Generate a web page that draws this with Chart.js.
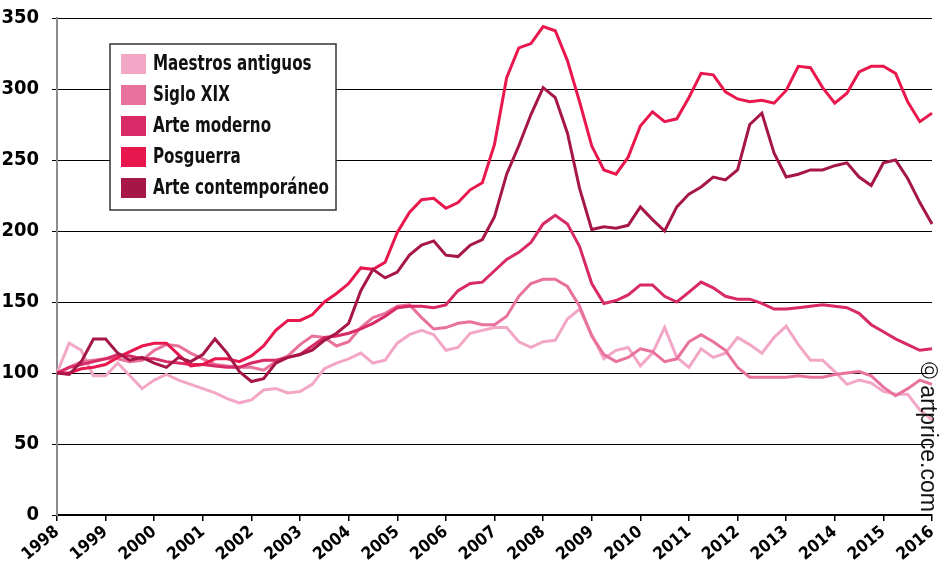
<!DOCTYPE html>
<html>
<head>
<meta charset="utf-8">
<script src="https://cdn.jsdelivr.net/npm/chart.js@4.4.1/dist/chart.umd.min.js"></script>
<style>
  html, body { margin: 0; padding: 0; background: #fff; }
  #wrap { width: 941px; height: 564px; position: relative; }
</style>
</head>
<body>
<div id="wrap"><canvas id="grafico"></canvas></div>
<script>
// Datos trimestrales, base 100 = enero 1998
const anios = ['1998', '1999', '2000', '2001', '2002', '2003', '2004', '2005', '2006',
  '2007', '2008', '2009', '2010', '2011', '2012', '2013', '2014', '2015', '2016'];

const series = ['Maestros antiguos', 'Siglo XIX', 'Arte moderno', 'Posguerra', 'Arte contemporáneo'];
const colores = ['#f2a7c6', '#e9719d', '#d82a66', '#e8184f', '#a61646'];

const maestrosAntiguos = [100, 121, 116, 98, 98, 107, 98, 89, 95, 99, 95, 92, 89, 86, 82, 79, 81, 88, 89, 86,
  87, 92, 103, 107, 110, 114, 107, 109, 121, 127, 130, 127, 116, 118, 128, 130, 132, 132, 122, 118,
  122, 123, 138, 145, 127, 110, 116, 118, 105, 114, 132, 111, 104, 117, 111, 114, 125, 120, 114, 125,
  133, 120, 109, 109, 101, 92, 95, 93, 87, 85, 85, 74, 67];
const sigloXIX = [100, 104, 108, 109, 110, 110, 108, 109, 116, 120, 119, 114, 110, 106, 105, 104, 104, 102, 108, 112,
  120, 126, 125, 119, 122, 132, 139, 142, 147, 148, 139, 131, 132, 135, 136, 134, 134, 140, 154, 163,
  166, 166, 161, 147, 126, 113, 108, 111, 117, 115, 108, 110, 122, 127, 122, 116, 104, 97, 97, 97,
  97, 98, 97, 97, 99, 100, 101, 98, 90, 84, 89, 95, 92];
const arteModerno = [100, 104, 106, 108, 110, 113, 112, 110, 110, 108, 107, 106, 106, 105, 104, 104, 107, 109, 109, 111,
  113, 119, 125, 126, 128, 131, 135, 140, 146, 147, 147, 146, 148, 158, 163, 164, 172, 180, 185, 192,
  205, 211, 205, 189, 163, 149, 151, 155, 162, 162, 154, 150, 157, 164, 160, 154, 152, 152, 149, 145,
  145, 146, 147, 148, 147, 146, 142, 134, 129, 124, 120, 116, 117];
const posguerra = [100, 100, 103, 104, 106, 111, 115, 119, 121, 121, 113, 105, 106, 110, 110, 108, 112, 119, 130, 137,
  137, 141, 150, 156, 163, 174, 173, 178, 199, 213, 222, 223, 216, 220, 229, 234, 261, 308, 329, 332,
  344, 341, 320, 291, 260, 243, 240, 252, 274, 284, 277, 279, 294, 311, 310, 298, 293, 291, 292, 290,
  299, 316, 315, 301, 290, 297, 312, 316, 316, 311, 291, 277, 283];
const arteContemporaneo = [100, 99, 108, 124, 124, 114, 109, 111, 107, 104, 111, 108, 113, 124, 114, 101, 94, 96, 107, 111,
  113, 116, 123, 128, 135, 158, 173, 167, 171, 183, 190, 193, 183, 182, 190, 194, 210, 240, 260, 282,
  301, 294, 269, 230, 201, 203, 202, 204, 217, 208, 200, 217, 226, 231, 238, 236, 243, 275, 283, 255,
  238, 240, 243, 243, 246, 248, 238, 232, 248, 250, 237, 220, 205];

const valores = [maestrosAntiguos, sigloXIX, arteModerno, posguerra, arteContemporaneo];

// Etiquetas de trimestre: cuatro por año, el último año sólo el primer trimestre
const trimestres = [];
anios.forEach((a, k) => {
  const n = k === anios.length - 1 ? 1 : 4;
  for (let q = 1; q <= n; q++) trimestres.push(a + ' T' + q);
});

const FUENTE = "'Liberation Sans Narrow', 'DejaVu Sans Condensed', 'Open Sans', sans-serif";

// Leyenda con recuadro dentro del área del gráfico
const leyendaCaja = {
  id: 'leyendaCaja',
  afterDatasetsDraw(chart) {
    const c = chart.ctx;
    const x0 = chart.chartArea.left + 53, y0 = chart.chartArea.top + 26;
    const ancho = 226, alto = 166;
    c.save();
    c.fillStyle = '#fff';
    c.fillRect(x0, y0, ancho, alto);
    c.lineWidth = 1.5;
    c.strokeStyle = '#333';
    c.strokeRect(x0, y0, ancho, alto);
    c.font = 'bold 21px ' + FUENTE;
    c.textBaseline = 'middle';
    // comprimir el texto para que quepa como en el original
    const maxAncho = Math.max(...chart.data.datasets.map(d => c.measureText(d.label).width));
    const sx = Math.min(1, 176 / maxAncho);
    chart.data.datasets.forEach((ds, i) => {
      const yc = y0 + 20 + i * 31;
      c.fillStyle = ds.borderColor;
      c.fillRect(x0 + 11, yc - 10, 25, 20);
      c.fillStyle = '#111';
      c.save();
      c.translate(x0 + 43, yc + 1);
      c.scale(sx, 1);
      c.fillText(ds.label, 0, 0);
      c.restore();
    });
    c.restore();
  },
  afterDraw(chart) {
    const c = chart.ctx;
    c.save();
    c.translate(chart.chartArea.right - 11, 362);
    c.rotate(Math.PI / 2);
    c.font = "23px 'Liberation Sans', Arial, sans-serif";
    c.fillStyle = '#111';
    c.textBaseline = 'alphabetic';
    c.fillText('© artprice.com', 0, 0);
    c.restore();
  }
};

new Chart(document.getElementById('grafico'), {
  type: 'line',
  data: {
    labels: trimestres,
    datasets: series.map((s, i) => ({
      label: s,
      data: valores[i],
      borderColor: colores[i],
      backgroundColor: colores[i],
      borderWidth: 3,
      pointRadius: 0,
      tension: 0,
      fill: false,
      order: series.length - i
    }))
  },
  options: {
    responsive: true,
    maintainAspectRatio: false,
    animation: false,
    layout: { padding: { top: 18, right: 9, left: 0, bottom: 0 } },
    plugins: { legend: { display: false }, tooltip: { enabled: false } },
    scales: {
      x: {
        border: { color: '#000', width: 2 },
        grid: {
          drawOnChartArea: false,
          tickLength: 6,
          lineWidth: 1.5,
          color: ctx => (ctx.index % 4 === 0 ? '#000' : 'rgba(0,0,0,0)')
        },
        ticks: {
          autoSkip: false,
          minRotation: 40,
          maxRotation: 40,
          padding: 1,
          color: '#000',
          font: { family: FUENTE, size: 17, weight: 'bold' },
          callback: function (v, i) {
            return i % 4 === 0 ? this.getLabelForValue(v).slice(0, 4) : '';
          }
        },
        afterFit: s => { s.height = 49; s.paddingLeft = 0; s.paddingRight = 0; }
      },
      y: {
        min: 0,
        max: 350,
        border: { color: '#8c8c8c', width: 2 },
        grid: { color: '#000', lineWidth: 1, tickLength: 5 },
        ticks: {
          stepSize: 50,
          padding: 13,
          color: '#000',
          font: { family: FUENTE, size: 20, weight: 'bold' }
        },
        afterFit: s => { s.width = 57; s.paddingTop = 0; s.paddingBottom = 0; }
      }
    }
  },
  plugins: [leyendaCaja]
});
</script>
</body>
</html>
